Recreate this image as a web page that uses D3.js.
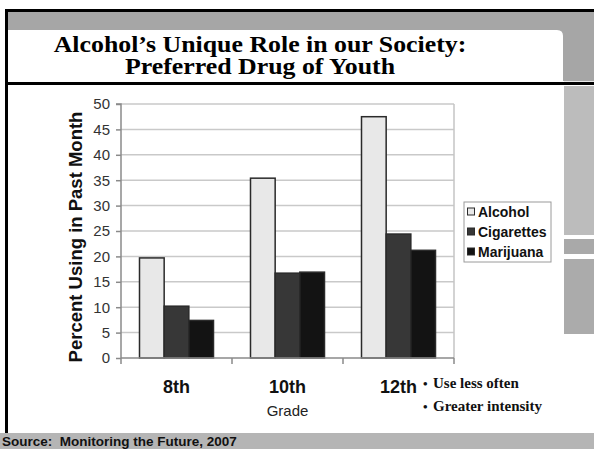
<!DOCTYPE html>
<html>
<head>
<meta charset="utf-8">
<script src="https://cdn.jsdelivr.net/npm/d3@7"></script>
<style>
  html, body { margin: 0; padding: 0; background: #fff; }
  svg { display: block; }
</style>
</head>
<body>
<svg id="slide" width="594" height="449"></svg>
<script>
// Past-month use by grade, Monitoring the Future 2007
const grades = ["8th", "10th", "12th"];
const seriesNames = ["Alcohol", "Cigarettes", "Marijuana"];
const alcohol = [19.7, 35.4, 47.5];
const cigarettes = [10.2, 16.7, 24.4];
const marijuana = [7.4, 16.9, 21.2];
const yTicks = [0, 5, 10, 15, 20, 25, 30, 35, 40, 45, 50];
const seriesFills = ["#e8e8e8", "#373737", "#131313"];
const titleLines = ["Alcohol\u2019s Unique Role in our Society:", "Preferred Drug of Youth"];
const notes = ["Use less often", "Greater intensity"];

const seriesValues = [alcohol, cigarettes, marijuana];
const svg = d3.select("#slide");

// ---- slide frame ----
svg.append("rect").attr("x", 0).attr("y", 0).attr("width", 594).attr("height", 449).attr("fill", "#fff");
// grey header band and right strip
svg.append("rect").attr("x", 7).attr("y", 11).attr("width", 587).attr("height", 70).attr("fill", "#a6a6a6");
svg.append("path")
  .attr("d", "M7,30 L557,30 Q563,30 563,36 L563,81 L7,81 Z")
  .attr("fill", "#fff");
svg.append("rect").attr("x", 564).attr("y", 81).attr("width", 30).attr("height", 2).attr("fill", "#e8e8e8");
svg.append("rect").attr("x", 564).attr("y", 86).attr("width", 30).attr("height", 149).attr("fill", "#bcbcbc");
svg.append("rect").attr("x", 564).attr("y", 239).attr("width", 30).attr("height", 15).attr("fill", "#a9a9a9");
svg.append("rect").attr("x", 564).attr("y", 259).attr("width", 30).attr("height", 75).attr("fill", "#ababab");
// black rules
svg.append("rect").attr("x", 5).attr("y", 9).attr("width", 589).attr("height", 3).attr("fill", "#000");
svg.append("rect").attr("x", 5).attr("y", 82).attr("width", 589).attr("height", 3).attr("fill", "#000");
svg.append("rect").attr("x", 5).attr("y", 9).attr("width", 3).attr("height", 425).attr("fill", "#000");
// source footer
svg.append("rect").attr("x", 0).attr("y", 433).attr("width", 594).attr("height", 16).attr("fill", "#b5b5b5");
svg.append("text").attr("x", 2).attr("y", 446)
  .attr("font-family", "Arial, 'Liberation Sans', sans-serif").attr("font-weight", "bold").attr("font-size", 13.5)
  .attr("fill", "#111").attr("xml:space", "preserve").style("white-space", "pre")
  .text("Source:  Monitoring the Future, 2007");

// title (set slightly wide, as on the slide)
svg.append("g").selectAll("text").data(titleLines).join("text")
  .attr("transform", (d, i) => `translate(260,${51.5 + i * 22.5}) scale(1.1,1)`)
  .attr("text-anchor", "middle")
  .attr("font-family", "'Times New Roman', 'Liberation Serif', serif")
  .attr("font-weight", "bold").attr("font-size", 23.5).attr("fill", "#000")
  .text(d => d);

// ---- chart ----
const plot = { left: 121, right: 454, top: 104, bottom: 358 };

const x = d3.scaleBand().domain(grades)
  .range([plot.left, plot.right]).paddingInner(1 / 3).paddingOuter(1 / 6);
const xs = d3.scaleBand().domain(seriesNames).range([0, x.bandwidth()]);
const y = d3.scaleLinear().domain([0, 50]).range([plot.bottom, plot.top]);

// gridlines
svg.append("g").selectAll("line").data(yTicks.filter(t => t > 0)).join("line")
  .attr("x1", plot.left).attr("x2", plot.right)
  .attr("y1", d => y(d)).attr("y2", d => y(d))
  .attr("stroke", "#c9c9c9").attr("stroke-width", 1.5);
// right border
svg.append("line").attr("x1", plot.right).attr("x2", plot.right)
  .attr("y1", plot.top).attr("y2", plot.bottom)
  .attr("stroke", "#c4c4c4").attr("stroke-width", 1.5);

// y axis
const yAxis = d3.axisLeft(y).tickValues(yTicks).tickSize(5).tickPadding(6);
const gy = svg.append("g").attr("transform", `translate(${plot.left},0)`).call(yAxis);
gy.select(".domain").attr("stroke", "#8a8a8a").attr("stroke-width", 1.5)
  .attr("d", `M-5,${plot.top}H0V${plot.bottom}`);
gy.selectAll(".tick line").attr("stroke", "#8a8a8a").attr("stroke-width", 1.5);
gy.selectAll(".tick text")
  .attr("font-family", "Arial, 'Liberation Sans', sans-serif").attr("font-size", 15).attr("fill", "#333");

// bars
const groups = svg.append("g").selectAll("g").data(grades).join("g")
  .attr("transform", d => `translate(${x(d)},0)`);
groups.selectAll("rect")
  .data((g, gi) => seriesNames.map((s, si) => ({ s, si, v: seriesValues[si][gi] })))
  .join("rect")
  .attr("x", d => xs(d.s))
  .attr("width", xs.bandwidth())
  .attr("y", d => y(d.v))
  .attr("height", d => y(0) - y(d.v))
  .attr("fill", d => seriesFills[d.si])
  .attr("stroke", "#2a2a2a").attr("stroke-width", 1.5);

// x axis with tick marks at category boundaries
const boundaries = [plot.left, ...grades.slice(1).map(g => x(g) - x.step() * x.paddingInner() / 2), plot.right];
svg.append("line").attr("x1", plot.left).attr("x2", plot.right)
  .attr("y1", plot.bottom).attr("y2", plot.bottom)
  .attr("stroke", "#8a8a8a").attr("stroke-width", 1.5);
svg.append("g").selectAll("line").data(boundaries).join("line")
  .attr("x1", d => d).attr("x2", d => d)
  .attr("y1", plot.bottom).attr("y2", plot.bottom + 6)
  .attr("stroke", "#8a8a8a").attr("stroke-width", 1.5);
svg.append("g").selectAll("text").data(grades).join("text")
  .attr("x", d => x(d) + x.bandwidth() / 2).attr("y", 393)
  .attr("text-anchor", "middle")
  .attr("font-family", "Arial, 'Liberation Sans', sans-serif")
  .attr("font-weight", "bold").attr("font-size", 18).attr("fill", "#111")
  .text(d => d);
svg.append("text").attr("x", (plot.left + plot.right) / 2).attr("y", 416)
  .attr("text-anchor", "middle")
  .attr("font-family", "Arial, 'Liberation Sans', sans-serif")
  .attr("font-size", 15).attr("fill", "#222").text("Grade");

// y axis title
svg.append("text")
  .attr("transform", `translate(82,${(plot.top + plot.bottom) / 2 + 6}) rotate(-90)`)
  .attr("text-anchor", "middle")
  .attr("font-family", "Arial, 'Liberation Sans', sans-serif")
  .attr("font-weight", "bold").attr("font-size", 18.5).attr("fill", "#111")
  .text("Percent Using in Past Month");

// legend
const legend = svg.append("g").attr("transform", "translate(464,202)");
legend.append("rect").attr("width", 87).attr("height", 60)
  .attr("fill", "#fff").attr("stroke", "#9a9a9a").attr("stroke-width", 1);
const items = legend.selectAll("g").data(seriesNames).join("g")
  .attr("transform", (d, i) => `translate(3,${10 + i * 20})`);
items.append("rect").attr("x", 0.5).attr("y", -4).attr("width", 7).attr("height", 7)
  .attr("fill", (d, i) => seriesFills[i]).attr("stroke", "#2a2a2a").attr("stroke-width", 1);
items.append("text").attr("x", 11).attr("y", 5)
  .attr("font-family", "Arial, 'Liberation Sans', sans-serif")
  .attr("font-weight", "bold").attr("font-size", 14).attr("fill", "#111")
  .text(d => d);

// side notes
const noteG = svg.append("g").selectAll("g").data(notes).join("g")
  .attr("transform", (d, i) => `translate(423,${388 + i * 23})`);
noteG.append("text").attr("x", 0).attr("y", 0)
  .attr("font-family", "'Times New Roman', 'Liberation Serif', serif")
  .attr("font-weight", "bold").attr("font-size", 13).attr("fill", "#111").text("\u2022");
noteG.append("text").attr("x", 10).attr("y", 0)
  .attr("font-family", "'Times New Roman', 'Liberation Serif', serif")
  .attr("font-weight", "bold").attr("font-size", 15).attr("fill", "#111").text(d => d);
</script>
</body>
</html>
